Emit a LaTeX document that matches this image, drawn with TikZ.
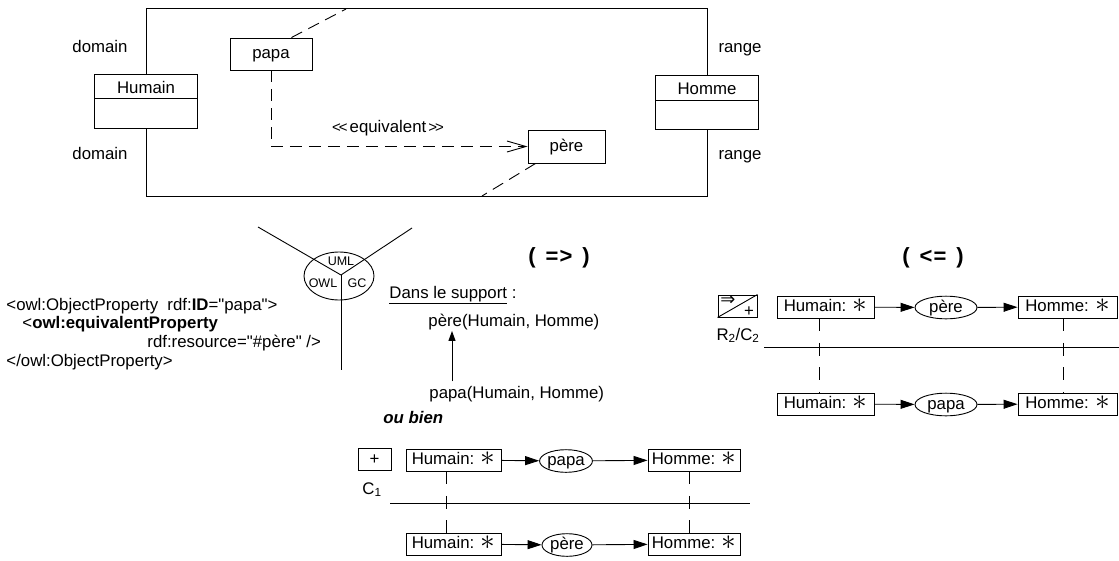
\documentclass[tikz,border=0pt]{standalone}
\usepackage{fontspec}
\setmainfont{Liberation Sans}[Ligatures=TeXOff]
\newfontfamily\djv{DejaVu Sans}
\usetikzlibrary{arrows.meta,shapes.geometric,calc}
\newcommand\fnorm{\fontsize{16.8}{19}\selectfont}
\newcommand\fsmall{\fontsize{12.5}{14}\selectfont}
\newcommand\fbig{\fontsize{22}{26}\selectfont\bfseries}
\newcommand\astk{\raisebox{-0.5pt}{\scalebox{1.7}{$\ast$}}}
\begin{document}
\begin{tikzpicture}[x=1pt,y=-1pt,line width=0.9pt,
  lbl/.style={inner sep=0pt,font=\fnorm},
  clsbox/.style={draw,minimum width=103pt,minimum height=54pt,inner sep=0pt},
  propbox/.style={draw,inner sep=0pt,font=\fnorm,text height=12.5pt,text depth=3.5pt},
  gbox/.style={draw,inner sep=0pt,minimum height=22pt,font=\fnorm,text height=12.5pt,text depth=3.5pt},
  rel/.style={draw,ellipse,inner sep=0pt,font=\fnorm,text height=12.5pt,text depth=3.5pt},
  dsh/.style={dash pattern=on 12pt off 7pt},
  vdsh/.style={dash pattern=on 13pt off 11.5pt},
  garrow/.style={-{Triangle[length=14pt,width=9pt]}},
]
\useasboundingbox (0,0) rectangle (1119,560);

% ---------- top UML part ----------
\node[clsbox] (hum) at (146,101) {};
\node[clsbox] (hom) at (707,102) {};
\node[lbl,anchor=base] (humT) at (146,93) {Humain};
\node[lbl,anchor=base] (homT) at (707,94) {Homme};
\draw ([yshift=-25pt]hum.north west) -- ([yshift=-25pt]hum.north east);
\draw ([yshift=-26pt]hom.north west) -- ([yshift=-26pt]hom.north east);
\coordinate (rtop) at (0,8);
\coordinate (rbot) at (0,196);
\draw (hum.north) -- (hum.north |- rtop) -| (hom.north);
\draw (hum.south) -- (hum.south |- rbot) -| (hom.south);

\node[lbl,anchor=base] (dom1) at (100,52) {domain};
\node[lbl,anchor=base] (dom2) at (100,159) {domain};
\node[lbl,anchor=base] (rng1) at (740,52) {range};
\node[lbl,anchor=base] (rng2) at (740,159) {range};

\node[propbox,minimum width=82pt,minimum height=32pt] (papa) at (271,54) {papa};
\node[propbox,minimum width=77pt,minimum height=33pt] (pere) at (566.5,146.5) {père};
\draw[dsh,-{Straight Barb[length=19pt,width=11pt]}] (papa.south) |- (pere.west);
\node[lbl,anchor=base] (eq) at (388,132) {{\fontsize{15}{16}\selectfont<\kern-2pt<}\kern2pt equivalent\kern2pt{\fontsize{15}{16}\selectfont>\kern-2pt>}};
\coordinate (d1) at (346,9);
\draw[dsh] ([xshift=-21pt]papa.north east) -- (d1);
\coordinate (d2) at (482,196);
\draw[dsh] ([xshift=8pt]pere.south west) -- (d2);

% ---------- Y symbol ----------
\node[draw,ellipse,minimum width=70pt,minimum height=48pt,inner sep=0pt] (tri) at (339,276) {};
\coordinate (yc) at (341,275);
\coordinate (ya) at (258,227);
\coordinate (yb) at (412,228);
\coordinate (yd) at (341,370);
\draw (yc) -- (ya);
\draw (yc) -- (yb);
\draw (yc) -- (yd);
\node[inner sep=0pt,font=\fsmall,anchor=base] (uml) at (341,265) {UML};
\node[inner sep=0pt,font=\fsmall,anchor=base] (owl) at (323,287) {OWL};
\node[inner sep=0pt,font=\fsmall,anchor=base] (gc) at (357,287) {GC};

% ---------- OWL code ----------
\node[lbl,anchor=base west] (x1) at (6,310) {<owl:ObjectProperty\ \ rdf:\textbf{ID}="papa">};
\node[lbl,anchor=base west] (x2) at (22,328) {<\textbf{owl:equivalentProperty}};
\node[lbl,anchor=base west] (x3) at (147,347) {rdf:resource="\#père" />};
\node[lbl,anchor=base west] (x4) at (6,366) {</owl:ObjectProperty>};

% ---------- (=>) ----------
\node[inner sep=0pt,font=\fbig,anchor=base] (impl) at (559,263) {(\hspace{10pt}=\kern1pt>\hspace{10pt})};
\node[lbl,anchor=base west] (dans) at (389,298) {\underline{Dans le support} :};
\node[lbl,anchor=base west] (pereF) at (428,326) {père(Humain, Homme)};
\node[lbl,anchor=base west] (papaF) at (429,398) {papa(Humain, Homme)};
\draw[-{Triangle[length=10pt,width=7pt]}] ([xshift=23pt,yshift=4pt]papaF.north west) -- ([xshift=24pt,yshift=-1pt]pereF.south west);

\node[inner sep=0pt,font=\fnorm\bfseries\itshape,anchor=base west] (ou) at (383,423) {ou bien};

% ---------- C1 graph ----------
\node[gbox,minimum width=33pt] (plus) at (374.5,459.5) {+};
\node[lbl,anchor=base] (c1) at (372,494) {C\textsubscript{1}};
\node[gbox,minimum width=95pt] (h1) at (453.5,460) {Humain: \astk};
\node[rel,minimum width=52pt,minimum height=18pt] (r1) at (566,461) {papa};
\node[gbox,minimum width=92pt] (m1) at (694,460) {Homme: \astk};
\draw[garrow] (h1) -- (r1);
\draw[garrow] (r1) -- (m1);
\coordinate (l1a) at (390,503);
\coordinate (l1b) at (750,503);
\draw (l1a) -- (l1b);
\node[gbox,minimum width=95pt] (h2) at (453.5,544) {Humain: \astk};
\node[rel,minimum width=50pt,minimum height=21pt] (r2) at (567,545) {père};
\node[gbox,minimum width=92pt] (m2) at (694,544) {Homme: \astk};
\draw[garrow] (h2) -- (r2);
\draw[garrow] (r2) -- (m2);
\draw[vdsh] ([xshift=-7.5pt]h1.south) -- ([xshift=-7.5pt]h2.north);
\draw[vdsh] ([xshift=-5pt]m1.south) -- ([xshift=-5pt]m2.north);

% ---------- (<=) ----------
\node[inner sep=0pt,font=\fbig,anchor=base] (rimpl) at (933,263) {(\hspace{10pt}<\kern1pt=\hspace{10pt})};
\node[gbox,minimum width=39pt] (rb) at (737.5,306) {};
\draw (rb.south west) -- (rb.north east);
\node[inner sep=0pt,font=\djv\fontsize{18}{19}\selectfont] (rbA) at (728,300.5) {⇒};
\node[inner sep=0pt,font=\fnorm] (rbB) at (749,311.5) {+};
\node[lbl,anchor=base] (r2c2) at (738,340) {R\textsubscript{2}/C\textsubscript{2}};

\node[gbox,minimum width=97pt] (h3) at (825.5,307) {Humain: \astk};
\node[rel,minimum width=62pt,minimum height=21pt] (r3) at (946,307.5) {père};
\node[gbox,minimum width=99pt] (m3) at (1067.5,307) {Homme: \astk};
\draw[garrow] (h3) -- (r3);
\draw[garrow] (r3) -- (m3);
\coordinate (l2a) at (764,347);
\coordinate (l2b) at (1119,347);
\draw (l2a) -- (l2b);
\node[gbox,minimum width=97pt] (h4) at (825.5,404) {Humain: \astk};
\node[rel,minimum width=62pt,minimum height=21pt] (r4) at (946,404.5) {papa};
\node[gbox,minimum width=99pt] (m4) at (1067.5,404) {Homme: \astk};
\draw[garrow] (h4) -- (r4);
\draw[garrow] (r4) -- (m4);
\draw[vdsh] ([xshift=-6.5pt]h3.south) -- ([xshift=-6.5pt]h4.north);
\draw[vdsh] ([xshift=-4.5pt]m3.south) -- ([xshift=-4.5pt]m4.north);
\end{tikzpicture}
\end{document}
